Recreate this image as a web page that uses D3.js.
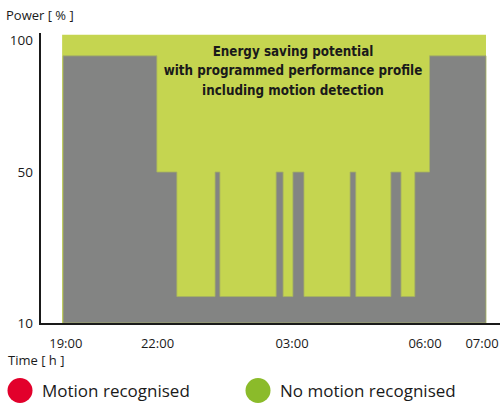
<!DOCTYPE html>
<html>
<head>
<meta charset="utf-8">
<script src="https://cdn.jsdelivr.net/npm/d3@7"></script>
<style>
  html, body { margin: 0; padding: 0; background: #fff; }
  svg { display: block; }
  text { font-family: "Open Sans", "Noto Sans", sans-serif; fill: #1a1a1a; }
  .title { font-family: "Liberation Sans Narrow", "DejaVu Sans Condensed", "Open Sans", sans-serif; font-weight: bold; }
</style>
</head>
<body>
<svg id="chart" width="500" height="403"></svg>
<script>
// ---- data (times in decimal hours, after midnight continues past 24) ----
const tickHours  = [19, 22, 27, 30, 31];
const tickLabels = ["19:00", "22:00", "03:00", "06:00", "07:00"];
const powerTicks = [10, 50, 100];

// programmed performance profile incl. motion detection (grey), step-after
const stepTimes = [18.91, 21.98, 22.72, 24.14, 24.32, 26.41, 26.67, 27.02, 27.27, 28.31, 28.44, 29.23, 29.46, 29.77, 30.08, 31.07];
const stepPower = [94, 50, 17, 50, 17, 50, 17, 50, 17, 50, 17, 50, 17, 50, 94, 94];

// full power envelope (green = energy saving potential)
const potentialTimes = [18.88, 31.07];
const potentialPower = [102, 102];

const titleLines = ["Energy saving potential", "with programmed performance profile", "including motion detection"];
const legendLabels = ["Motion recognised", "No motion recognised"];
const legendColors = ["#e2002b", "#8bbb2a"];

// ---- scales (schematic, piecewise linear like the original) ----
const x = d3.scaleLinear().domain(tickHours).range([65.8, 157.5, 292, 425, 482]);
const y = d3.scaleLinear().domain(powerTicks).range([323, 172, 40]);

const svg = d3.select("#chart");

const base = 10;
const area = d3.area()
  .x(d => x(d[0]))
  .y0(y(base))
  .y1(d => y(d[1]))
  .curve(d3.curveStepAfter);

// green potential
svg.append("path")
  .datum(potentialTimes.map((t, i) => [t, potentialPower[i]]))
  .attr("d", area)
  .attr("fill", "#c5d550");

// grey profile
svg.append("path")
  .datum(stepTimes.map((t, i) => [t, stepPower[i]]))
  .attr("d", area)
  .attr("fill", "#838483")
  .attr("stroke", "#a7b45f")
  .attr("stroke-width", 0.8);

// axes lines
svg.append("line").attr("x1", 40).attr("x2", 40).attr("y1", 33).attr("y2", 325)
  .attr("stroke", "#1a1a1a").attr("stroke-width", 2);
svg.append("line").attr("x1", 39).attr("x2", 500).attr("y1", 324).attr("y2", 324)
  .attr("stroke", "#1a1a1a").attr("stroke-width", 2);

// y tick labels
svg.selectAll(".ytick").data(powerTicks).join("text")
  .attr("class", "ytick")
  .attr("x", 33).attr("y", d => y(d) + 5)
  .attr("text-anchor", "end")
  .attr("font-size", 13.5)
  .text(d => d);

// x tick labels
svg.selectAll(".xtick").data(tickHours).join("text")
  .attr("class", "xtick")
  .attr("x", d => x(d)).attr("y", 348)
  .attr("text-anchor", "middle")
  .attr("font-size", 13)
  .text((d, i) => tickLabels[i]);

// axis titles
svg.append("text").attr("x", 6).attr("y", 20).attr("font-size", 13).text("Power [ % ]");
svg.append("text").attr("x", 8).attr("y", 365).attr("font-size", 13).text("Time [ h ]");

// title in the green area
svg.selectAll(".title").data(titleLines).join("text")
  .attr("class", "title")
  .attr("x", 293).attr("y", (d, i) => 56 + i * 19.3)
  .attr("text-anchor", "middle")
  .attr("font-size", 13.3)
  .text(d => d);

// legend
const lx = [20, 258];
svg.selectAll(".lg-dot").data(legendLabels).join("circle")
  .attr("class", "lg-dot")
  .attr("cx", (d, i) => lx[i]).attr("cy", 390.5).attr("r", 12.5)
  .attr("fill", (d, i) => legendColors[i]);
svg.selectAll(".lg-txt").data(legendLabels).join("text")
  .attr("class", "lg-txt")
  .attr("x", (d, i) => lx[i] + 22).attr("y", 397)
  .attr("font-size", 17)
  .attr("fill", "#222")
  .text(d => d);
</script>
</body>
</html>
